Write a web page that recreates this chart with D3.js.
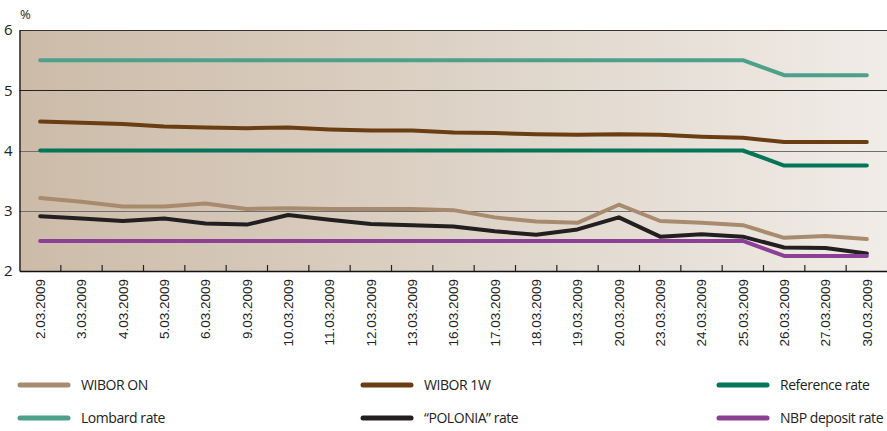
<!DOCTYPE html>
<html><head><meta charset="utf-8">
<script src="https://cdn.jsdelivr.net/npm/d3@7"></script>
<style>body{margin:0;background:#fff;}svg{display:block;font-family:"Open Sans","Noto Sans",sans-serif;}</style>
</head><body><svg id="c" width="887" height="431"></svg>
<script>
const dates = ["2.03.2009","3.03.2009","4.03.2009","5.03.2009","6.03.2009","9.03.2009","10.03.2009","11.03.2009","12.03.2009","13.03.2009","16.03.2009","17.03.2009","18.03.2009","19.03.2009","20.03.2009","23.03.2009","24.03.2009","25.03.2009","26.03.2009","27.03.2009","30.03.2009"];
const wiborON   = [3.21,3.15,3.07,3.07,3.12,3.03,3.04,3.03,3.03,3.03,3.01,2.89,2.82,2.80,3.10,2.83,2.80,2.76,2.55,2.58,2.53];
const wibor1W   = [4.48,4.46,4.44,4.40,4.38,4.37,4.38,4.35,4.33,4.33,4.30,4.29,4.27,4.26,4.27,4.26,4.23,4.21,4.14,4.14,4.14];
const reference = [4,4,4,4,4,4,4,4,4,4,4,4,4,4,4,4,4,4,3.75,3.75,3.75];
const lombard   = [5.5,5.5,5.5,5.5,5.5,5.5,5.5,5.5,5.5,5.5,5.5,5.5,5.5,5.5,5.5,5.5,5.5,5.5,5.25,5.25,5.25];
const polonia   = [2.91,2.87,2.83,2.87,2.79,2.77,2.93,2.85,2.78,2.76,2.74,2.66,2.60,2.69,2.89,2.57,2.61,2.57,2.39,2.38,2.29];
const deposit   = [2.5,2.5,2.5,2.5,2.5,2.5,2.5,2.5,2.5,2.5,2.5,2.5,2.5,2.5,2.5,2.5,2.5,2.5,2.25,2.25,2.25];
const yTicks = [2,3,4,5,6];
const seriesNames = ["WIBOR ON","WIBOR 1W","Reference rate","Lombard rate","\u201cPOLONIA\u201d rate","NBP deposit rate"];
const seriesData = [wiborON, wibor1W, reference, lombard, polonia, deposit];
const colors = ["#a88b6e","#6a3e12","#007558","#4da08a","#231f20","#8b3f96"];
const drawOrder = [3,1,2,0,4,5];

const svg = d3.select("#c");
const L = 19.5, R = 887.5, T = 30, B = 271;
const x = d3.scaleBand().domain(dates).range([L, R]);
const y = d3.scaleLinear().domain([2,6]).range([B, T]);

const defs = svg.append("defs");
const g = defs.append("linearGradient").attr("id","bg").attr("x1","0").attr("x2","1").attr("y1","0").attr("y2","0");
g.append("stop").attr("offset","0").attr("stop-color","#ccbba8");
g.append("stop").attr("offset","0.5").attr("stop-color","#ddd2c6");
g.append("stop").attr("offset","1").attr("stop-color","#f0ece7");
svg.append("rect").attr("x",L).attr("y",T).attr("width",R-L).attr("height",B-T).attr("fill","url(#bg)");

// gridlines
svg.append("g").selectAll("line").data([3,4,5]).join("line")
  .attr("x1",L).attr("x2",R).attr("y1",d=>Math.round(y(d))+0.5).attr("y2",d=>Math.round(y(d))+0.5)
  .attr("stroke",d=>d===5?"#222":"#6e6e6e").attr("stroke-width",1);
// top border
svg.append("line").attr("x1",L).attr("x2",R).attr("y1",T+0.5).attr("y2",T+0.5).attr("stroke","#333").attr("stroke-width",1.2);

// lines
const line = d3.line().x((d,i)=>x(dates[i])+x.bandwidth()/2).y(d=>y(d));
drawOrder.forEach(k=>{
  svg.append("path").datum(seriesData[k]).attr("d",line).attr("fill","none")
    .attr("stroke",colors[k]).attr("stroke-width",4).attr("stroke-linejoin","round").attr("stroke-linecap","round");
});

// y axis
const ya = svg.append("g").attr("transform",`translate(${L},0)`)
  .call(d3.axisLeft(y).tickValues(yTicks).tickSize(0).tickPadding(6).tickFormat(d3.format("d")));
ya.select(".domain").attr("stroke","#111").attr("stroke-width",1.3);
ya.selectAll("text").attr("font-size",15).attr("fill","#222").attr("font-family","'Open Sans',sans-serif").attr("x",-7);
svg.append("text").attr("x",20).attr("y",19).attr("font-size",13).attr("fill","#222").text("%");

// x axis
const xa = svg.append("g").attr("transform",`translate(0,${B})`)
  .call(d3.axisBottom(x).tickSize(0).tickPadding(0));
xa.select(".domain").attr("stroke","#111").attr("stroke-width",1.3);
xa.selectAll("text").attr("font-size",13.5).attr("fill","#222")
  .attr("transform","rotate(-90)").attr("text-anchor","end").attr("x",-8).attr("y",0).attr("dy","0.35em");
// ticks at band boundaries, pointing upward
svg.append("g").selectAll("line").data(dates.slice(1)).join("line")
  .attr("x1",d=>x(d)).attr("x2",d=>x(d)).attr("y1",B).attr("y2",B-6).attr("stroke","#222").attr("stroke-width",1.2);

// legend
const legX = [18, 361, 717];
const legY = [385, 418];
seriesNames.forEach((name,i)=>{
  const cx = legX[i%3], cy = legY[Math.floor(i/3)];
  svg.append("line").attr("x1",cx+2).attr("x2",cx+50).attr("y1",cy).attr("y2",cy)
    .attr("stroke",colors[i]).attr("stroke-width",5).attr("stroke-linecap","round");
  svg.append("text").attr("x",cx+63).attr("y",cy).attr("dy","0.35em").attr("font-size",14)
    .attr("letter-spacing","-0.45px").attr("fill","#222").text(name);
});
</script></body></html>
